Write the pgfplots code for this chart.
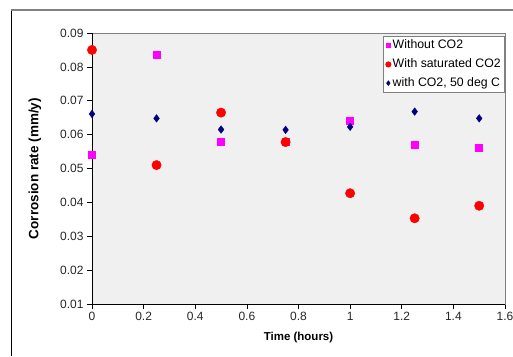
\documentclass[border=0pt]{standalone}
\usepackage{fontspec}
\setmainfont{Liberation Sans}
\usepackage{pgfplots}
\pgfplotsset{compat=1.18}
\definecolor{plotbg}{HTML}{F0F0F0}
\definecolor{navyc}{HTML}{000080}
\definecolor{magc}{HTML}{FF00FF}
\definecolor{redc}{HTML}{FF0000}
\definecolor{framegray}{HTML}{808080}
\begin{document}
\begin{tikzpicture}[x=1pt,y=1pt]
\useasboundingbox (0,0) rectangle (513,356);
\draw[black, line width=1.4pt] (11.5,0) -- (11.5,346);
\draw[framegray, line width=1.3pt] (11,346) -- (513,346);
\begin{axis}[
  at={(92pt,52pt)}, anchor=south west,
  scale only axis, width=413pt, height=271pt,
  xmin=0, xmax=1.6, ymin=0.01, ymax=0.09,
  xtick={0,0.2,0.4,0.6,0.8,1,1.2,1.4,1.6},
  ytick={0.01,0.02,0.03,0.04,0.05,0.06,0.07,0.08,0.09},
  scaled x ticks=false, scaled y ticks=false,
  xticklabel style={/pgf/number format/fixed, /pgf/number format/precision=1},
  yticklabel style={/pgf/number format/fixed, /pgf/number format/fixed zerofill, /pgf/number format/precision=2},
  /pgf/number format/assume math mode=true,
  tick label style={font=\fontsize{12}{14}\selectfont, text=black!85},
  axis background/.style={fill=plotbg},
  axis line style={draw=framegray, line width=0.8pt},
  tick style={black, line width=0.7pt},
  major tick length=5pt,
  tick align=outside,
  xtick pos=bottom, ytick pos=left,
  xlabel={Time (hours)},
  ylabel={Corrosion rate (mm/y)},
  xlabel style={font=\bfseries\fontsize{11.5}{13}\selectfont, at={(axis description cs:0.5,-0.1255)}, anchor=center},
  ylabel style={font=\bfseries\fontsize{13.5}{15}\selectfont, at={(axis description cs:-0.138,0.5)}, anchor=center},
  legend cell align=left,
  legend style={at={(rel axis cs:1,1)}, anchor=north east, xshift=0pt, yshift=-2.7pt,
    draw=framegray, line width=0.9pt, fill=white,
    font=\fontsize{12.3}{14}\selectfont,
    row sep=3.5pt, inner xsep=2pt, inner ysep=2pt,
    nodes={inner sep=1.8pt, text height=9pt, text depth=2.6pt}},
  legend image code/.code={\draw[mark options={scale=0.55}] plot coordinates {(0pt,0pt)};},
  clip=false,
]
\draw[black, line width=0.9pt] (rel axis cs:0,1) -- (rel axis cs:0,0) -- (rel axis cs:1,0);
\addplot[only marks, mark=square*, mark size=3.5pt, color=magc] coordinates {
  (0,0.0540) (0.25,0.0835) (0.5,0.0578) (0.75,0.0580) (1,0.0640) (1.25,0.0570) (1.5,0.0560)};
\addlegendentry{Without CO2}
\addplot[only marks, mark=*, mark size=4.7pt, color=redc] coordinates {
  (0,0.0850) (0.25,0.0510) (0.5,0.0665) (0.75,0.0578) (1,0.0427) (1.25,0.0353) (1.5,0.0390)};
\addlegendentry{With saturated CO2}
\addplot[only marks, mark=diamond*, mark size=3.8pt, color=navyc] coordinates {
  (0,0.0661) (0.25,0.0648) (0.5,0.0615) (0.75,0.0614) (1,0.0623) (1.25,0.0668) (1.5,0.0648)};
\addlegendentry{with CO2, 50 deg C}
\end{axis}
\end{tikzpicture}
\end{document}
